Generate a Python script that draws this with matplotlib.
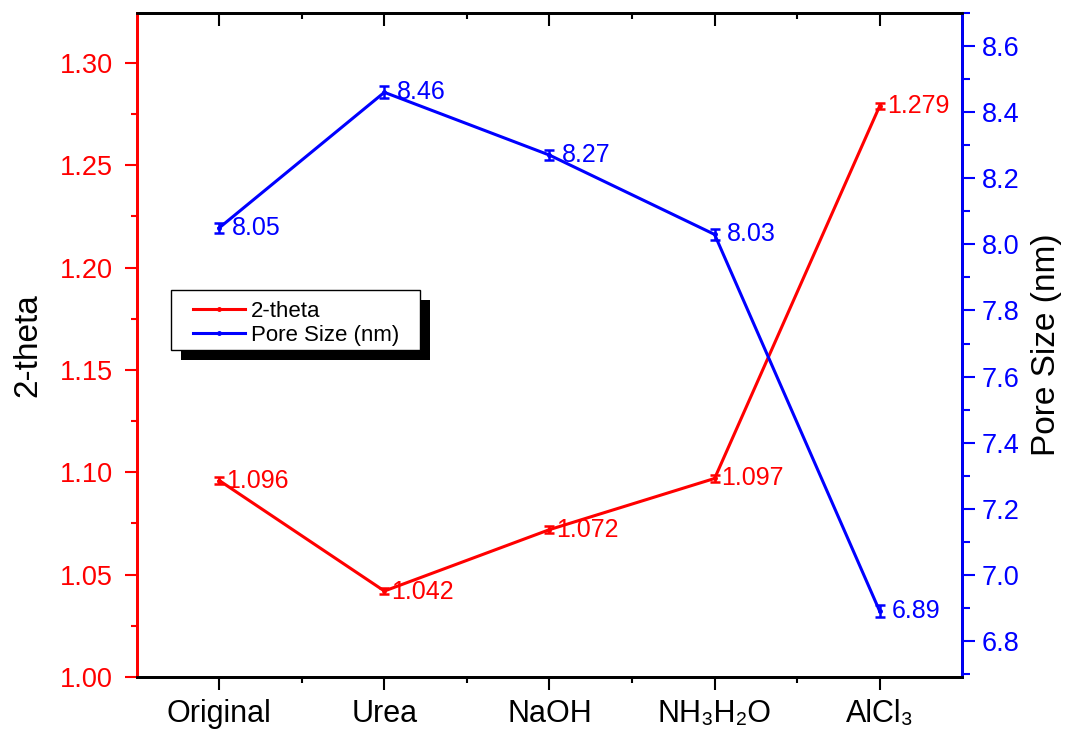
import matplotlib
matplotlib.use('Agg')
import matplotlib.pyplot as plt
from matplotlib.patches import Rectangle
from matplotlib.lines import Line2D

plt.rcParams['font.family'] = ['Liberation Sans', 'DejaVu Sans']

samples = ['Original', 'Urea', 'NaOH', 'NH₃H₂O', 'AlCl₃']
theta = [1.096, 1.042, 1.072, 1.097, 1.279]
theta_err = [0.0015, 0.0015, 0.0018, 0.0018, 0.0015]
pore = [8.05, 8.46, 8.27, 8.03, 6.89]
pore_err = [0.016, 0.018, 0.014, 0.016, 0.018]
theta_lbl = ['1.096', '1.042', '1.072', '1.097', '1.279']
pore_lbl = ['8.05', '8.46', '8.27', '8.03', '6.89']

W, H = 1068, 730
fig = plt.figure(figsize=(W / 100, H / 100), dpi=100)
ax = fig.add_axes([0.128, 0.0726, 0.773, 0.9096])
ax2 = ax.twinx()
x = list(range(len(samples)))

ax.errorbar(x, theta, yerr=theta_err, color='red', lw=2.2, marker='o', ms=2.5,
            capsize=3.5, elinewidth=1.8, capthick=1.8)
ax2.errorbar(x, pore, yerr=pore_err, color='blue', lw=2.2, marker='o', ms=2.5,
             capsize=3.5, elinewidth=1.8, capthick=1.8)

for i in x:
    dy = -1 if i == 1 else 0
    ax.annotate(theta_lbl[i], (x[i], theta[i]), xytext=(5, dy), textcoords='offset points',
                color='red', fontsize=18, va='center')
    ax2.annotate(pore_lbl[i], (x[i], pore[i]), xytext=(9, 0), textcoords='offset points',
                 color='blue', fontsize=18, va='center')

ax.set_xlim(-0.5, 4.5)
ax.set_ylim(1.0, 1.3244)
ax2.set_ylim(6.691, 8.70)
ax.set_xticks(x)
ax.set_xticklabels(samples, fontsize=22)
ax.set_xticks([i + 0.5 for i in x[:-1]], minor=True)
lticks = [1.00, 1.05, 1.10, 1.15, 1.20, 1.25, 1.30]
ax.set_yticks(lticks)
ax.set_yticklabels(['%.2f' % v for v in lticks])
ax.set_yticks([1.025 + 0.05 * k for k in range(6)], minor=True)
rticks = [6.8 + 0.2 * k for k in range(10)]
ax2.set_yticks(rticks)
ax2.set_yticklabels(['%.1f' % v for v in rticks])
ax2.set_yticks([6.7 + 0.2 * k for k in range(11)], minor=True)

ax.tick_params(axis='y', colors='red', labelsize=19.5, width=1.5, length=9, pad=8, which='major')
ax.tick_params(axis='y', colors='red', width=1.5, length=4.5, which='minor')
ax.tick_params(axis='x', labelsize=22, width=1.5, length=9, pad=6.5, which='major')
ax.tick_params(axis='x', width=1.5, length=4.5, which='minor')
ax2.tick_params(axis='y', colors='blue', labelsize=19.5, width=1.5, length=9, pad=5, which='major')
ax2.tick_params(axis='y', colors='blue', width=1.5, length=5.5, which='minor')

# top axis: inward ticks without labels, drawn by the twin's x axis
ax2.xaxis.set_visible(True)
ax2.tick_params(axis='x', which='both', top=True, bottom=False, labeltop=False,
                labelbottom=False, direction='in', width=1.5)
ax2.tick_params(axis='x', which='major', length=9)
ax2.tick_params(axis='x', which='minor', length=4)

ax.set_ylabel('2-theta', fontsize=24, labelpad=12)
ax2.set_ylabel('Pore Size (nm)', fontsize=24, labelpad=8)

for a in (ax, ax2):
    for s in a.spines.values():
        s.set_linewidth(2)
ax2.spines['left'].set_color('red')
ax2.spines['right'].set_color('blue')
ax.spines['left'].set_color('red')

# legend box with black drop shadow (pixel positions of the frame)
bx0, by0, bx1, by1 = 171, 290, 420, 350
ax2.add_patch(Rectangle(((bx0 + 10) / W, 1 - (by1 + 10) / H), (bx1 - bx0) / W, (by1 - by0) / H,
                        transform=fig.transFigure, facecolor='black', edgecolor='none',
                        zorder=8, clip_on=False))
ax2.add_patch(Rectangle((bx0 / W, 1 - by1 / H), (bx1 - bx0) / W, (by1 - by0) / H,
                        transform=fig.transFigure, facecolor='white', edgecolor='black',
                        lw=1, zorder=9, clip_on=False))

handles = [Line2D([], [], color='red', lw=2.2, marker='o', ms=2.5),
           Line2D([], [], color='blue', lw=2.2, marker='o', ms=2.5)]
leg = ax2.legend(handles, ['2-theta', 'Pore Size (nm)'], loc='upper left',
                 bbox_to_anchor=(193 / W, 1 - 301 / H), bbox_transform=fig.transFigure,
                 fontsize=16, frameon=False, handlelength=2.35, borderpad=0,
                 labelspacing=0.12, handletextpad=0.25, borderaxespad=0)
leg.set_zorder(10)

fig.savefig('out.png', dpi=100)
